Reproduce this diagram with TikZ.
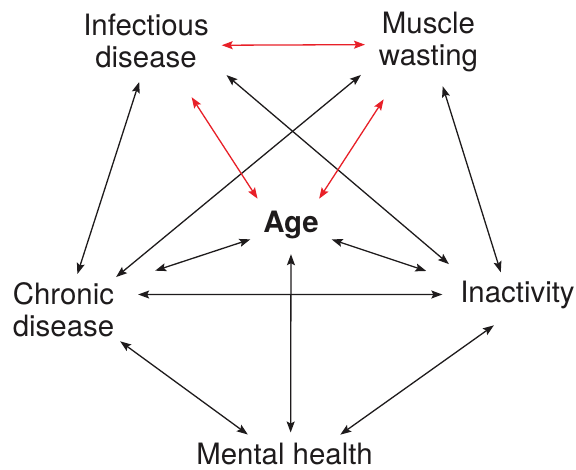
\documentclass[tikz,border=0pt]{standalone}
\usepackage{fontspec}
\setmainfont{TeX Gyre Heros}
\usetikzlibrary{arrows.meta}
\definecolor{lred}{RGB}{232,32,40}
\definecolor{lblack}{RGB}{30,27,28}
\newcommand{\linestrut}{\rule[-2bp]{0pt}{24bp}}
\begin{document}
\begin{tikzpicture}[x=1bp,y=-1bp,
  lbl/.style={inner sep=0pt, outer sep=0pt, font=\fontsize{29.4bp}{32bp}\selectfont, text=lblack},
  link/.style={draw=lblack, line width=1.3bp,
    {Stealth[length=11bp,width=8bp,inset=2bp]}-{Stealth[length=11bp,width=8bp,inset=2bp]}},
  rlink/.style={link, draw=lred},
]
\useasboundingbox[fill=white] (0,0) rectangle (576,470);
\node[lbl, align=center] (inf) at (146,42) {\linestrut Infectious\\\linestrut disease};
\node[lbl, align=center] (mus) at (428.5,42) {\linestrut Muscle\\\linestrut wasting};
\node[lbl] (age) at (291,225) {\linestrut\textbf{Age}};
\node[lbl, align=left] (chr) at (63.5,310) {\linestrut Chronic\\\linestrut disease};
\node[lbl] (ina) at (517.5,294.5) {\linestrut Inactivity};
\node[lbl] (men) at (284.5,454.5) {\linestrut Mental health};

\draw[rlink, shorten <=13bp, shorten >=14bp] (inf.-3) -- (mus.183);
\draw[link, shorten <=12.6bp, shorten >=8.4bp] (inf.-96) -- (chr.68);
\draw[link, shorten <=23.4bp, shorten >=25bp] (inf.-16) -- (ina.164);
\draw[link, shorten <=23.4bp, shorten >=7.8bp] (mus.200) -- (chr.31);
\draw[link, shorten <=14.7bp, shorten >=8.4bp] (mus.-72) -- (ina.135);
\draw[rlink, shorten <=32.4bp, shorten >=14.4bp] (inf.-45) -- (age.151);
\draw[rlink, shorten <=32.4bp, shorten >=14.4bp] (mus.-132) -- (age.35);
\draw[link, shorten <=13.7bp, shorten >=43.2bp] (age.200) -- (chr.27);
\draw[link, shorten <=13.7bp, shorten >=35.9bp] (age.-20) -- (ina.168);
\draw[link, shorten <=24bp, shorten >=18bp] (chr.17) -- (ina.180);
\draw[link, shorten <=15bp, shorten >=10bp] (age.-90) -- (men.63);
\draw[link, shorten <=7.4bp, shorten >=13.6bp] (chr.-28.5) -- (men.155);
\draw[link, shorten <=28.7bp, shorten >=13.5bp] (ina.-91) -- (men.15);
\end{tikzpicture}
\end{document}
